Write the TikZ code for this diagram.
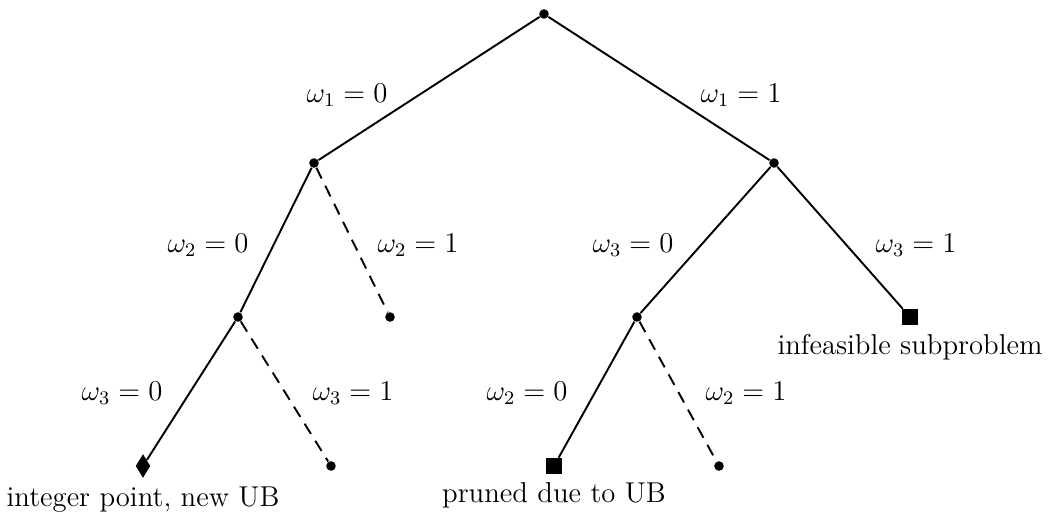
\documentclass[tikz,border=0pt]{standalone}
\usepackage{tikz}
\usetikzlibrary{shapes.geometric}

\tikzset{
  every node/.style={font=\large},
  vtx/.style={circle, fill, inner sep=0pt, minimum size=4pt},
  sqr/.style={rectangle, fill, inner sep=0pt, minimum size=6.6pt},
  dmd/.style={diamond, fill, inner sep=0pt, minimum width=6.2pt, minimum height=10pt},
  br/.style={line width=0.8pt},
  brd/.style={line width=0.8pt, dash pattern=on 5pt off 3.4pt},
}

\begin{document}
\begin{tikzpicture}[x=0.0147cm, y=-0.0147cm]
  \useasboundingbox (0,0) rectangle (1048,513);
  % nodes of the tree
  \node[vtx] (r) at (544,14) {};
  \node[vtx] (a) at (314,163) {};
  \node[vtx] (b) at (774,163) {};
  \node[vtx] (aa) at (238,317) {};
  \node[vtx] (ab) at (390,317) {};
  \node[vtx] (ba) at (637,317) {};
  \node[sqr] (bb) at (910,317) {};
  \node[dmd] (aaa) at (143,466) {};
  \node[vtx] (aab) at (331,466) {};
  \node[sqr] (baa) at (554,466) {};
  \node[vtx] (bab) at (719,466) {};

  % branches
  \draw[br] (r) -- (a);
  \draw[br] (r) -- (b);
  \draw[br] (a) -- (aa);
  \draw[brd] (a) -- (ab);
  \draw[br] (b) -- (ba);
  \draw[br] (b) -- (bb);
  \draw[br] (aa) -- (aaa);
  \draw[brd] (aa) -- (aab);
  \draw[br] (ba) -- (baa);
  \draw[brd] (ba) -- (bab);

  % branch labels
  \node (l1) at (347,95) {$\omega_1=0$};
  \node (l2) at (741,95) {$\omega_1=1$};
  \node (l3) at (208,245) {$\omega_2=0$};
  \node (l4) at (418,245) {$\omega_2=1$};
  \node (l5) at (633,245) {$\omega_3=0$};
  \node (l6) at (916,245) {$\omega_3=1$};
  \node (l7) at (122,393) {$\omega_3=0$};
  \node (l8) at (353,393) {$\omega_3=1$};
  \node (l9) at (527,393) {$\omega_2=0$};
  \node (l10) at (746,393) {$\omega_2=1$};

  % leaf notes
  \node[below=0pt] (t1) at (aaa.south) {integer point, new UB};
  \node[below=0pt] (t2) at (baa.south) {pruned due to UB};
  \node[below=0pt] (t3) at (bb.south) {infeasible subproblem};
\end{tikzpicture}
\end{document}
